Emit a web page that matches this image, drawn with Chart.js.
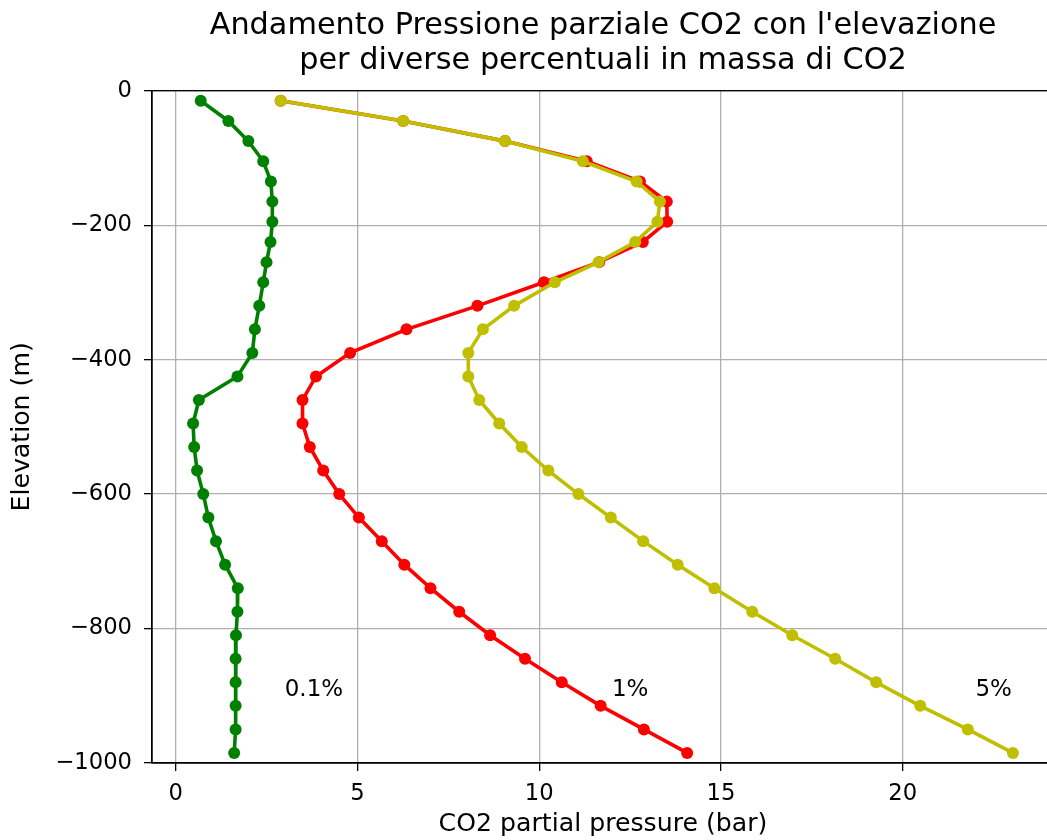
<!DOCTYPE html>
<html>
<head>
<meta charset="utf-8">
<title>Pressione parziale CO2</title>
<script src="https://cdn.jsdelivr.net/npm/chart.js@4.4.1/dist/chart.umd.min.js"></script>
<style>
  html, body { margin: 0; padding: 0; background: #fff; overflow: hidden; }
  #wrap { width: 1060px; height: 840px; }
</style>
</head>
<body>
<div id="wrap"><canvas id="co2-chart" width="1060" height="840"></canvas></div>
<script>
// elevation of each computed cell (m)
const elevations = [-15, -45, -75, -105, -135, -165, -195, -225, -255, -285,
  -320, -355, -390, -425, -460, -495, -530, -565, -600, -635,
  -670, -705, -740, -775, -810, -845, -880, -915, -950, -985];

// CO2 partial pressure (bar) for each mass percentage
const pco2_01 = [0.69, 1.45, 2.00, 2.41, 2.62, 2.66, 2.66, 2.61, 2.50, 2.41,
  2.30, 2.18, 2.11, 1.70, 0.64, 0.48, 0.51, 0.59, 0.76, 0.90,
  1.11, 1.36, 1.71, 1.70, 1.66, 1.65, 1.65, 1.65, 1.65, 1.61];
const pco2_1 = [2.89, 6.26, 9.06, 11.31, 12.77, 13.51, 13.52, 12.85, 11.65, 10.13,
  8.30, 6.35, 4.80, 3.86, 3.49, 3.49, 3.69, 4.06, 4.50, 5.04,
  5.67, 6.29, 7.01, 7.80, 8.65, 9.61, 10.62, 11.69, 12.88, 14.07];
const pco2_5 = [2.89, 6.26, 9.06, 11.20, 12.68, 13.32, 13.25, 12.64, 11.63, 10.43,
  9.31, 8.45, 8.05, 8.05, 8.35, 8.90, 9.52, 10.25, 11.08, 11.97,
  12.86, 13.81, 14.82, 15.86, 16.96, 18.14, 19.27, 20.48, 21.79, 23.03];

// tick values
const xTicks = [0, 5, 10, 15, 20];
const yTicks = [0, -200, -400, -600, -800, -1000];

// text labels next to the curves
const labelTexts = ['0.1%', '1%', '5%'];
const labelX = [3, 12, 22];
const labelY = [-900, -900, -900];

const FONT = 'DejaVu Sans';

function toPoints(values) {
  return values.map((v, i) => ({ x: v, y: elevations[i] }));
}

function makeSeries(label, values, color, order) {
  return {
    label: label,
    data: toPoints(values),
    showLine: true,
    borderColor: color,
    backgroundColor: color,
    borderWidth: 3.6,
    pointRadius: 6,
    pointBorderWidth: 0,
    pointBackgroundColor: color,
    tension: 0,
    order: order
  };
}

// top/right frame like matplotlib spines
const framePlugin = {
  id: 'frame',
  afterDraw(chart) {
    const { ctx, chartArea } = chart;
    ctx.save();
    ctx.strokeStyle = '#000';
    ctx.lineWidth = 1.3;
    ctx.strokeRect(chartArea.left, chartArea.top, chartArea.right - chartArea.left, chartArea.bottom - chartArea.top);
    ctx.restore();
  }
};

// percentage annotations
const labelPlugin = {
  id: 'percentLabels',
  afterDatasetsDraw(chart) {
    const { ctx, scales } = chart;
    ctx.save();
    ctx.font = '23px "' + FONT + '"';
    ctx.fillStyle = '#000';
    ctx.textAlign = 'left';
    ctx.textBaseline = 'alphabetic';
    labelTexts.forEach((t, i) => {
      ctx.fillText(t, scales.x.getPixelForValue(labelX[i]), scales.y.getPixelForValue(labelY[i]));
    });
    ctx.restore();
  }
};

const tickFont = { family: FONT, size: 22.7 };

new Chart(document.getElementById('co2-chart'), {
  type: 'scatter',
  data: {
    datasets: [
      makeSeries('0.1%', pco2_01, '#008000', 3),
      makeSeries('1%', pco2_1, '#ff0000', 2),
      makeSeries('5%', pco2_5, '#bfbf00', 1)
    ]
  },
  options: {
    responsive: false,
    animation: false,
    devicePixelRatio: 1,
    layout: { padding: { left: 0, right: 6, top: 0, bottom: 0 } },
    plugins: {
      legend: { display: false },
      tooltip: { enabled: false },
      title: {
        display: true,
        fullSize: false,
        text: ["Andamento Pressione parziale CO2 con l'elevazione", 'per diverse percentuali in massa di CO2'],
        color: '#000',
        font: { family: FONT, size: 30.3, weight: 'normal', lineHeight: 1.15 },
        padding: { top: 9, bottom: 12 }
      }
    },
    scales: {
      x: {
        type: 'linear',
        min: -0.65,
        max: 24.16,
        afterBuildTicks: scale => { scale.ticks = xTicks.map(v => ({ value: v })); },
        afterFit: scale => { scale.height = 77; },
        ticks: { color: '#000', font: tickFont, padding: 9, maxRotation: 0, includeBounds: false },
        grid: { color: '#b0b0b0', lineWidth: 1.3, tickColor: '#000', tickLength: 8, tickWidth: 1.3 },
        border: { color: '#000', width: 1.3 },
        title: {
          display: true,
          text: 'CO2 partial pressure (bar)',
          color: '#000',
          font: { family: FONT, size: 25.2 },
          padding: { top: 0, bottom: 0 }
        }
      },
      y: {
        type: 'linear',
        min: -1000,
        max: 0,
        afterBuildTicks: scale => { scale.ticks = yTicks.map(v => ({ value: v })); },
        afterFit: scale => { scale.width = 152; },
        ticks: {
          color: '#000',
          font: tickFont,
          padding: 12,
          includeBounds: false,
          callback: v => (v < 0 ? '\u2212' + Math.abs(v) : String(v))
        },
        grid: { color: '#b0b0b0', lineWidth: 1.3, tickColor: '#000', tickLength: 8, tickWidth: 1.3 },
        border: { color: '#000', width: 1.3 },
        title: {
          display: true,
          text: 'Elevation (m)',
          color: '#000',
          font: { family: FONT, size: 25.2 },
          padding: { top: 7, bottom: 0 }
        }
      }
    }
  },
  plugins: [framePlugin, labelPlugin]
});
</script>
</body>
</html>
